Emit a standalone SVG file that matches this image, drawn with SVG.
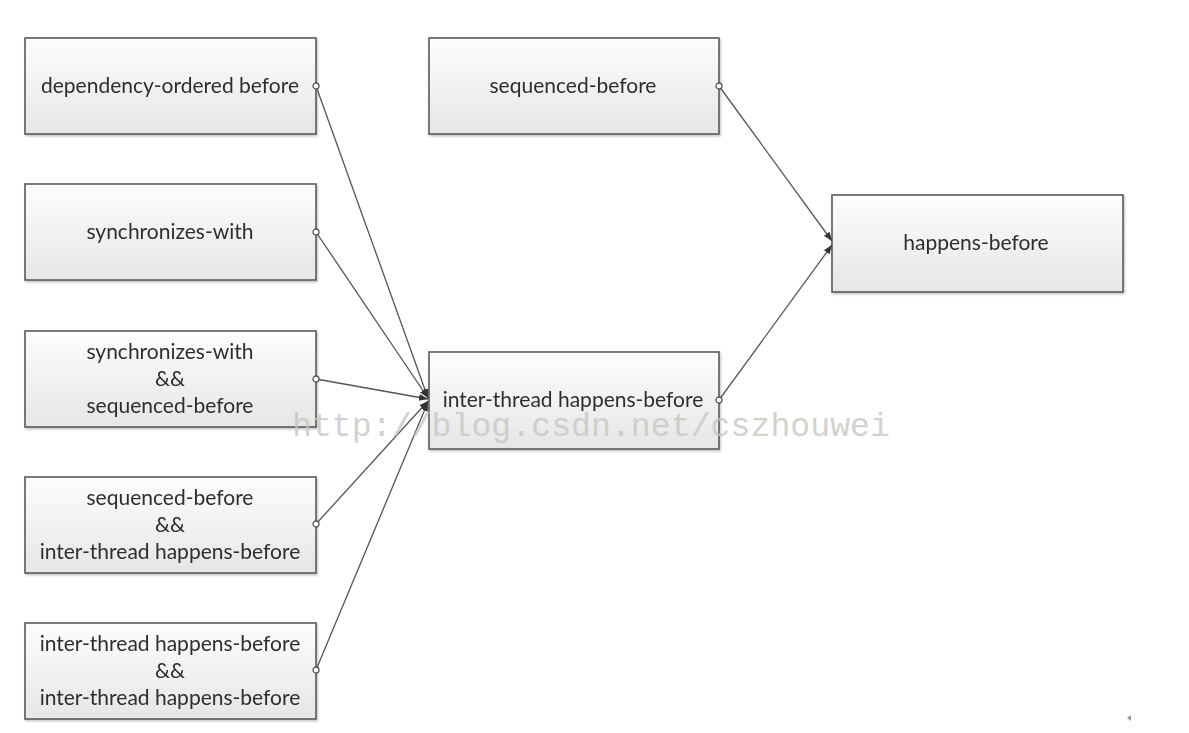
<svg xmlns="http://www.w3.org/2000/svg" width="1189" height="733" viewBox="0 0 1189 733">
<style>
.box{fill:url(#g);stroke:#5a5a5a;stroke-width:1.6}
.t{font-family:Lato,"Open Sans","Liberation Sans",sans-serif;font-size:21px;fill:#2e2e2e;text-anchor:middle}
.c{fill:none;stroke:#555;stroke-width:1.3;marker-start:url(#dot);marker-end:url(#arr)}
.wm{font-family:"Liberation Mono","DejaVu Sans Mono",monospace;font-size:34px;fill:#c6c6c0;fill-opacity:0.8}
</style>
<defs>
<linearGradient id="g" x1="0" y1="0" x2="0" y2="1">
<stop offset="0" stop-color="#fdfdfd"/>
<stop offset="1" stop-color="#e6e6e6"/>
</linearGradient>
<filter id="sh" x="-5%" y="-5%" width="110%" height="115%">
<feDropShadow dx="1" dy="1.5" stdDeviation="1" flood-color="#000" flood-opacity="0.25"/>
</filter>
<marker id="dot" markerWidth="10" markerHeight="10" refX="5" refY="5" markerUnits="userSpaceOnUse">
<circle cx="5" cy="5" r="3" fill="#fff" stroke="#555" stroke-width="1.3"/>
</marker>
<marker id="arr" markerWidth="10" markerHeight="10" refX="9" refY="5" orient="auto" markerUnits="userSpaceOnUse">
<path d="M0,1.5 L9,5 L0,8.5 Z" fill="#333"/>
</marker>
</defs>
<rect width="1189" height="733" fill="#fff"/>
<g id="n1" filter="url(#sh)"><rect class="box" x="25" y="38" width="291" height="96"/><text class="t" x="170" y="93">dependency-ordered before</text></g>
<g id="n2" filter="url(#sh)"><rect class="box" x="25" y="184" width="291" height="96"/><text class="t" x="170" y="239">synchronizes-with</text></g>
<g id="n3" filter="url(#sh)"><rect class="box" x="25" y="331" width="291" height="96"/><text class="t" x="170" y="359">synchronizes-with</text><text class="t" x="170" y="386">&amp;&amp;</text><text class="t" x="170" y="413">sequenced-before</text></g>
<g id="n4" filter="url(#sh)"><rect class="box" x="25" y="477" width="291" height="96"/><text class="t" x="170" y="505">sequenced-before</text><text class="t" x="170" y="532">&amp;&amp;</text><text class="t" x="170" y="559">inter-thread happens-before</text></g>
<g id="n5" filter="url(#sh)"><rect class="box" x="25" y="623" width="291" height="96"/><text class="t" x="170" y="651">inter-thread happens-before</text><text class="t" x="170" y="678">&amp;&amp;</text><text class="t" x="170" y="705">inter-thread happens-before</text></g>
<g id="n6" filter="url(#sh)"><rect class="box" x="429" y="38" width="290" height="96"/><text class="t" x="573" y="93">sequenced-before</text></g>
<g id="n7" filter="url(#sh)"><rect class="box" x="429" y="352" width="290" height="97"/><text class="t" x="573" y="407">inter-thread happens-before</text></g>
<g id="n8" filter="url(#sh)"><rect class="box" x="832" y="195" width="291" height="97"/><text class="t" x="976" y="250">happens-before</text></g>
<g id="connectors">
<line class="c" x1="316" y1="86" x2="428" y2="398"/>
<line class="c" x1="316" y1="232" x2="428" y2="398"/>
<line class="c" x1="316" y1="379" x2="428" y2="399"/>
<line class="c" x1="316" y1="524" x2="428" y2="401"/>
<line class="c" x1="316" y1="670" x2="428" y2="402"/>
<line class="c" x1="719" y1="86" x2="832" y2="241"/>
<line class="c" x1="719" y1="400" x2="832" y2="245"/>
</g>
<text class="wm" x="292" y="436" textLength="598" lengthAdjust="spacingAndGlyphs">http://blog.csdn.net/cszhouwei</text>
<path d="M1131,715 L1127,718 L1131,721 Z" fill="#999"/>
</svg>
